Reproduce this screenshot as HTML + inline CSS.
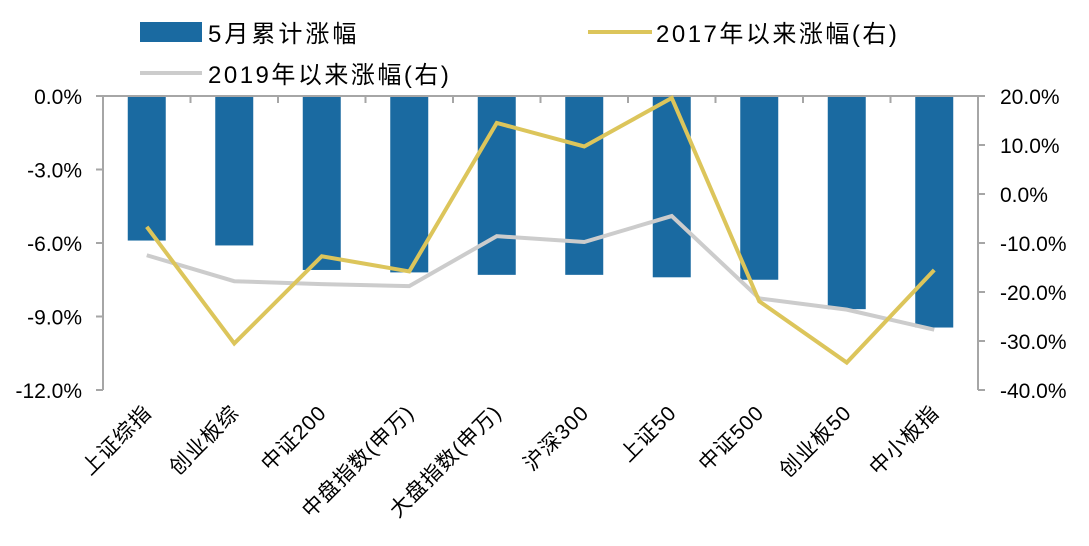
<!DOCTYPE html>
<html><head><meta charset="utf-8"><style>
body{margin:0;background:#fff;}
svg{display:block;font-family:"Liberation Sans","Noto Sans CJK SC",sans-serif;}
</style></head><body>
<svg id="c" width="1089" height="546">
<g>
<rect x="140" y="22" width="62" height="20" fill="#1a6aa1"/>
<text x="208" y="42" font-size="24" letter-spacing="3" fill="#000">5月累计涨幅</text>
<line x1="588" y1="32" x2="652" y2="32" stroke="#dcc55b" stroke-width="4"/>
<text x="656" y="42" font-size="24" letter-spacing="2.5" fill="#000">2017年以来涨幅(右)</text>
<line x1="140" y1="73" x2="202" y2="73" stroke="#cccccc" stroke-width="4"/>
<text x="208" y="83" font-size="24" letter-spacing="2.5" fill="#000">2019年以来涨幅(右)</text>
</g>
</svg>
<script>
const categories=["上证综指","创业板综","中证200","中盘指数(申万)","大盘指数(申万)","沪深300","上证50","中证500","创业板50","中小板指"];
const barValues=[-5.9,-6.1,-7.1,-7.2,-7.3,-7.3,-7.4,-7.5,-8.7,-9.45];
const line2017=[-6.7,-30.5,-12.7,-15.8,14.5,9.7,19.6,-21.9,-34.4,-15.5];
const line2019=[-12.5,-17.8,-18.4,-18.8,-8.6,-9.8,-4.5,-21.3,-23.6,-27.7];
const leftTicks=[0,-3,-6,-9,-12];
const rightTicks=[20,10,0,-10,-20,-30,-40];
const NS="http://www.w3.org/2000/svg";
const svg=document.getElementById('c');
const X0=103,X1=978,Y0=96,Y1=390;
const bw=(X1-X0)/categories.length;
const yL=v=>Y0+(0-v)/12*(Y1-Y0);
const yR=v=>Y0+(20-v)/60*(Y1-Y0);
const xC=i=>X0+bw*(i+0.5);
function mk(t,a){const e=document.createElementNS(NS,t);for(const k in a)e.setAttribute(k,a[k]);svg.appendChild(e);return e;}
barValues.forEach((v,i)=>{
 const r=mk('rect',{x:xC(i)-19,y:Y0,width:38,height:yL(v)-Y0,fill:'#1a6aa1'});
 
 
});
let a=mk('line',{x1:X0,y1:Y0,x2:X0,y2:Y1,stroke:'#a6a6a6','stroke-width':2});


a=mk('line',{x1:X1,y1:Y0,x2:X1,y2:Y1,stroke:'#a6a6a6','stroke-width':2});


a=mk('line',{x1:96,y1:Y0,x2:985,y2:Y0,stroke:'#a6a6a6','stroke-width':2});


for(let i=1;i<categories.length;i++){
 const t=mk('line',{x1:X0+bw*i,y1:Y0,x2:X0+bw*i,y2:Y0+7,stroke:'#a6a6a6','stroke-width':2});
 
 
}
leftTicks.forEach(v=>{
 const y=yL(v);
 const t=mk('line',{x1:96,y1:y,x2:X0,y2:y,stroke:'#a6a6a6','stroke-width':2});
 
 
 const l=mk('text',{x:82,y:y+8,'font-size':21,'text-anchor':'end',fill:'#000'});
 l.textContent=v.toFixed(1)+'%';
 
 
});
rightTicks.forEach(v=>{
 const y=yR(v);
 const t=mk('line',{x1:X1,y1:y,x2:985,y2:y,stroke:'#a6a6a6','stroke-width':2});
 
 
 const l=mk('text',{x:1000,y:y+8,'font-size':21,fill:'#000'});
 l.textContent=v.toFixed(1)+'%';
 
 
});
categories.forEach((c,i)=>{
 const x=xC(i)+6,y=414;
 const l=mk('text',{x:x,y:y,'font-size':21,'letter-spacing':1,'text-anchor':'end',fill:'#000',transform:`rotate(-45 ${x} ${y})`});
 l.textContent=c;
 
 
});
let p=mk('polyline',{points:line2019.map((v,i)=>xC(i)+','+yR(v)).join(' '),fill:'none',stroke:'#cccccc','stroke-width':4});


p=mk('polyline',{points:line2017.map((v,i)=>xC(i)+','+yR(v)).join(' '),fill:'none',stroke:'#dcc55b','stroke-width':4});


</script>
</body></html>
